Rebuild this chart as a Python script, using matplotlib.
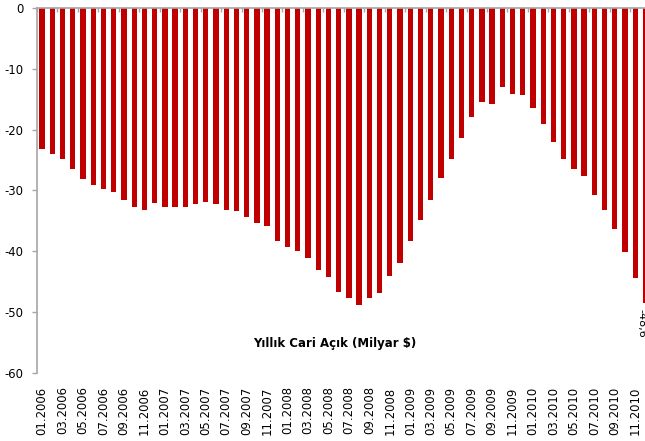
import numpy as np
import matplotlib
matplotlib.use('Agg')
import matplotlib.pyplot as plt

plt.rcParams['axes.unicode_minus'] = False

# Monthly 12-month rolling current account balance, billion $
months = ['%02d.%d' % (m, y) for y in range(2006, 2011) for m in range(1, 13)]
values = [-23.1, -24.0, -24.9, -26.4, -28.2, -29.1, -29.8, -30.3, -31.6, -32.8, -33.2, -32.1,
          -32.8, -32.8, -32.8, -32.3, -31.9, -32.2, -33.3, -33.4, -34.3, -35.4, -35.9, -38.3,
          -39.3, -40.0, -41.1, -43.1, -44.2, -46.7, -47.7, -48.9, -47.8, -46.9, -44.1, -42.0,
          -38.3, -34.8, -31.6, -27.9, -24.9, -21.4, -17.9, -15.4, -15.7, -13.0, -14.2, -14.3,
          -16.5, -19.1, -22.1, -24.9, -26.4, -27.6, -30.8, -33.3, -36.3, -40.1, -44.4, -48.6]
last_label = '-48,6'
title = 'Yıllık Cari Açık (Milyar $)'

grey = '#a6a6a6'
fig = plt.figure(figsize=(6.45, 4.41), dpi=100)
# axes runs a bit past the right edge, like the original crop
ax = fig.add_axes([0.0574, 0.1553, 0.9513, 0.8259])
x = np.arange(len(values))
ax.bar(x, values, width=0.52, color='#c00000', zorder=2)

ax.set_xlim(-0.5, len(values) - 0.5)
ax.set_ylim(-60, 0)
ax.set_yticks(range(-60, 1, 10))
ax.tick_params(axis='y', length=3.5, width=1, color=grey, pad=6, labelsize=8.4)

# tick marks between categories (every 2), labels under every 2nd bar
ax.set_xticks(np.arange(-0.5, len(values), 2))
ax.tick_params(axis='x', which='major', top=True, bottom=False, direction='in',
               length=3, width=1, color=grey, labelbottom=False)
ax.set_xticks(x[::2], [months[i] for i in x[::2]], minor=True)
ax.tick_params(axis='x', which='minor', top=False, bottom=True, length=0,
               pad=10, labelsize=8.4, labelrotation=90)

for s in ['right', 'bottom']:
    ax.spines[s].set_visible(False)
for s in ['top', 'left']:
    ax.spines[s].set_color(grey)
    ax.spines[s].set_linewidth(1.2)

# data label of the last bar, half cut by the right edge as in the original
ax.annotate(last_label, (x[-1], values[-1]), xytext=(-3, -4), textcoords='offset points',
            rotation=270, ha='center', va='top', fontsize=8, annotation_clip=False)
fig.text(335 / 645, 1 - 343 / 441, title, ha='center', va='center',
         fontsize=8.5, fontweight='bold')

fig.savefig('out.png', dpi=100)
